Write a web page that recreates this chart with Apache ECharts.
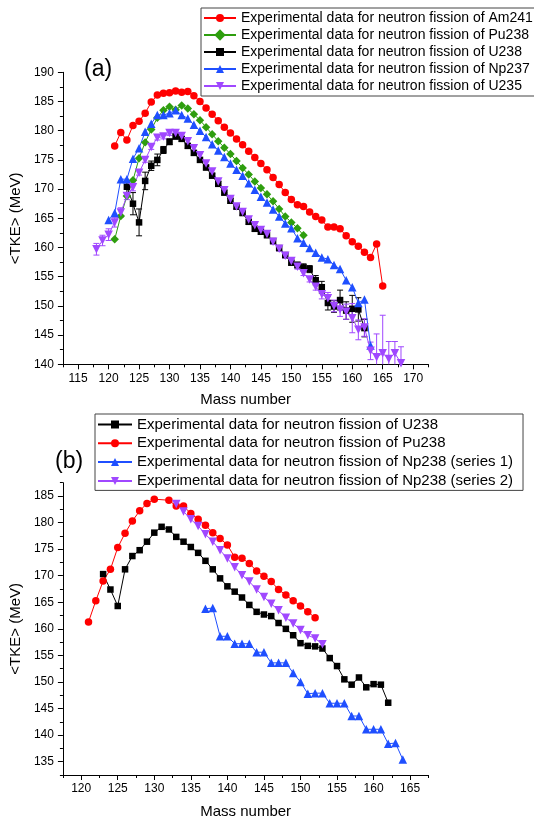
<!DOCTYPE html>
<html><head><meta charset="utf-8">
<script src="https://cdn.jsdelivr.net/npm/echarts@6/dist/echarts.min.js"></script>
<style>html,body{margin:0;padding:0;background:#fff}#c{width:534px;height:821px}</style>
</head><body><div id="c"></div>
<script>
// ---------- Panel (a) data ----------
const massAm241 = [121,122,123,124,125,126,127,128,129,130,131,132,133,134,135,136,137,138,139,140,141,142,143,144,145,146,147,148,149,150,151,152,153,154,155,156,157,158,159,160,161,162,163,164,165];
const tkeAm241 = [177.4,179.7,178.4,180.9,181.6,183.0,184.9,186.1,186.4,186.5,186.8,186.6,186.7,186.0,185.0,183.9,182.8,181.7,180.6,179.6,178.6,177.6,176.5,175.4,174.4,173.3,172.0,170.8,169.4,168.2,167.3,167.0,166.1,165.3,164.7,163.5,163.5,163.2,162.0,161.0,160.2,159.2,158.3,160.6,153.4];

const massPu238a = [121,122,123,124,125,126,127,128,129,130,131,132,133,134,135,136,137,138,139,140,141,142,143,144,145,146,147,148,149,150,151,152];
const tkePu238a = [161.4,165.4,168.8,171.5,175.3,178.0,180.2,182.2,183.5,184.1,183.6,184.3,183.8,182.8,181.8,180.6,179.4,178.2,177.1,176.0,174.8,173.6,172.5,171.3,170.2,169.1,167.9,166.6,165.3,164.3,163.3,162.1];

const massU238a = [123,124,125,126,127,128,129,130,131,132,133,134,135,136,137,138,139,140,141,142,143,144,145,146,147,148,149,150,151,152,153,154,155,156,157,158,159,160,161,162];
const tkeU238a = [170.4,167.5,164.3,171.4,174.0,175.0,176.7,178.1,179.0,178.6,177.4,176.2,175.0,173.7,172.3,170.9,169.4,168.0,167.0,165.9,164.4,163.2,162.7,162.1,161.1,159.9,158.7,157.4,157.0,156.6,156.3,154.4,153.2,150.5,149.9,151.0,149.2,149.5,149.4,146.2];
const errU238a = [1.0,1.9,2.3,1.5,0.8,1.0,0.6,0.5,0.4,0.4,0.4,0.4,0.4,0.4,0.4,0.4,0.4,0.4,0.4,0.4,0.4,0.4,0.4,0.4,0.4,0.4,0.4,0.4,0.5,0.6,0.6,0.8,1.0,1.2,1.0,1.7,1.5,2.3,2.0,1.5];

const massNp237 = [120,121,122,123,124,125,126,127,128,129,130,131,132,133,134,135,136,137,138,139,140,141,142,143,144,145,146,147,148,149,150,151,152,153,154,155,156,157,158,159,160,161,162,163];
const tkeNp237 = [164.7,165.9,171.7,171.7,175.2,177.0,179.8,181.2,182.7,182.7,183.0,183.5,182.7,182.1,181.0,180.0,178.9,177.7,176.6,175.5,174.4,173.3,172.3,171.0,169.9,168.7,167.7,166.5,165.3,164.1,163.3,161.6,160.8,159.9,159.1,158.3,158.0,157.0,156.3,154.4,153.2,150.5,151.1,143.2];

const massU235 = [118,119,120,121,122,123,124,125,126,127,128,129,130,131,132,133,134,135,136,137,138,139,140,141,142,143,144,145,146,147,148,149,150,151,152,153,154,155,156,157,158,159,160,161,162,163,164,165,166,167,168];
const tkeU235 = [159.7,161.2,162.2,164.3,166.0,168.8,170.3,172.8,175.0,177.2,178.8,179.0,179.6,179.6,179.1,178.2,177.0,175.8,174.4,173.0,171.3,169.8,168.3,167.0,166.1,164.8,163.8,163.0,162.3,161.0,159.8,158.6,157.7,156.7,155.6,154.5,153.3,152.0,151.3,150.0,149.4,149.0,147.9,145.9,146.3,142.3,141.2,141.9,140.9,141.9,140.2];
const errU235 = [1.0,0.9,1.0,0.8,0.8,0.6,0.6,0.4,0.4,0.4,0.4,0.4,0.4,0.4,0.4,0.4,0.4,0.4,0.4,0.4,0.4,0.4,0.4,0.4,0.4,0.4,0.4,0.4,0.4,0.4,0.4,0.4,0.4,0.4,0.4,0.4,0.6,0.8,1.0,1.0,1.2,1.3,2.5,1.7,1.5,1.5,4.0,6.5,3.0,2.0,2.8];

// ---------- Panel (b) data ----------
const massU238b = [123,124,125,126,127,128,129,130,131,132,133,134,135,136,137,138,139,140,141,142,143,144,145,146,147,148,149,150,151,152,153,154,155,156,157,158,159,160,161,162];
const tkeU238b = [170.3,167.4,164.3,171.2,173.7,174.8,176.4,178.1,179.2,178.7,177.3,176.4,175.4,174.3,172.8,171.2,169.5,168.0,167.0,165.9,164.5,163.2,162.7,162.4,161.1,160.0,158.8,157.3,156.8,156.7,156.3,154.5,153.0,150.5,149.5,150.85,149.0,149.6,149.5,146.1];

const massPu238b = [121,122,123,124,125,126,127,128,129,130,132,133,134,135,136,137,138,139,140,141,142,143,144,145,146,147,148,149,150,151,152];
const tkePu238b = [161.3,165.3,169.0,171.2,175.3,178.0,180.3,182.2,183.6,184.4,184.2,183.1,183.1,181.7,180.6,179.5,178.1,177.0,175.8,173.45,173.3,172.3,170.9,169.9,168.9,167.4,166.35,165.3,164.3,163.2,162.1];

const massNp238s1 = [137,138,139,140,141,142,143,144,145,146,147,148,149,150,151,152,153,154,155,156,157,158,159,160,161,162,163,164];
const tkeNp238s1 = [163.8,163.9,158.6,158.6,157.2,157.2,157.2,155.6,155.6,153.6,153.6,153.6,151.7,150.0,147.8,147.9,147.9,146.0,146.0,146.0,143.6,143.6,141.1,141.1,141.1,138.4,138.5,135.4];

const massNp238s2 = [133,134,135,136,137,138,139,140,141,142,143,144,145,146,147,148,149,150,151,152,153];
const tkeNp238s2 = [183.5,182.1,180.6,179.35,177.8,176.4,174.8,173.25,171.6,170.1,168.9,167.4,166.0,164.7,163.5,162.1,161.0,159.8,158.8,158.2,157.1];

// ---------- Tick labels ----------
const xTicksA = [115,120,125,130,135,140,145,150,155,160,165,170];
const xMinorA = [112.5,117.5,122.5,127.5,132.5,137.5,142.5,147.5,152.5,157.5,162.5,167.5,172.5];
const yTicksA = [140,145,150,155,160,165,170,175,180,185,190];
const yMinorA = [142.5,147.5,152.5,157.5,162.5,167.5,172.5,177.5,182.5,187.5];
const xTicksB = [120,125,130,135,140,145,150,155,160,165];
const xMinorB = [117.5,122.5,127.5,132.5,137.5,142.5,147.5,152.5,157.5,162.5,167.5];
const yTicksB = [135,140,145,150,155,160,165,170,175,180,185];
const yMinorB = [132.5,137.5,142.5,147.5,152.5,157.5,162.5,167.5,172.5,177.5,182.5,187.5];

const NAME_A = ['Experimental data for neutron fission of Am241','Experimental data for neutron fission of Pu238','Experimental data for neutron fission of U238','Experimental data for neutron fission of Np237','Experimental data for neutron fission of U235'];
const NAME_B = ['b|Experimental data for neutron fission of U238','b|Experimental data for neutron fission of Pu238','b|Experimental data for neutron fission of Np238 (series 1)','b|Experimental data for neutron fission of Np238 (series 2)'];

const FONT = '"Liberation Sans", Arial, Helvetica, sans-serif';
const COL = {red:'#ff0000', green:'#2e9e0e', black:'#000000', blue:'#1f4fff', purple:'#a048ff'};

function pairs(xs, ys){ return xs.map((x,i)=>[x, ys[i]]); }
function triples(xs, ys, es){ return xs.map((x,i)=>[x, ys[i], es[i]]); }

function axisPair(dim, gridIndex, min, max, majors, minors, name, nameGap){
  const main = {
    type:'value', gridIndex, min, max,
    axisLine:{show:true, onZero:false, lineStyle:{color:'#000', width:1}},
    axisTick:{show:true, customValues:majors, length:5, lineStyle:{color:'#000', width:1}},
    axisLabel:{show:true, customValues:majors, color:'#000', fontSize:12, fontFamily:FONT, margin: dim==='x'?8:9},
    splitLine:{show:false},
    name, nameLocation:'middle', nameGap,
    nameTextStyle:{color:'#000', fontSize:15, fontFamily:FONT}
  };
  const minor = {
    type:'value', gridIndex, min, max,
    axisLine:{show:false, onZero:false},
    axisTick:{show:true, customValues:minors, length:3, lineStyle:{color:'#000', width:1}},
    axisLabel:{show:false},
    splitLine:{show:false}
  };
  if (dim==='x'){ main.position='bottom'; minor.position='bottom'; }
  else { main.position='left'; minor.position='left'; main.nameRotate=90; }
  return [main, minor];
}

function lineSeries(name, xi, yi, xs, ys, color, symbol, size, rotate){
  return {
    name, type:'line', xAxisIndex:xi, yAxisIndex:yi,
    data:pairs(xs, ys), symbol, symbolSize:size, symbolRotate:rotate||0,
    showAllSymbol:true, z:3,
    lineStyle:{color, width:1}, itemStyle:{color, borderWidth:0},
    emphasis:{disabled:true}
  };
}

function errSeries(xi, yi, xs, ys, es, color){
  return {
    type:'custom', xAxisIndex:xi, yAxisIndex:yi, z:2,
    data:triples(xs, ys, es),
    encode:{x:0, y:1},
    renderItem:function(params, api){
      const x=api.value(0), y=api.value(1), e=api.value(2);
      const cs = params.coordSys;
      const top = cs.y, bot = cs.y + cs.height;
      const p1 = api.coord([x, y+e]), p2 = api.coord([x, y-e]);
      const yt = Math.max(p1[1], top), yb = Math.min(p2[1], bot);
      const st = {stroke:color, lineWidth:1, fill:null};
      const ch = [{type:'line', shape:{x1:p1[0], y1:yt, x2:p1[0], y2:yb}, style:st}];
      const cap = 3;
      if (p1[1] >= top) ch.push({type:'line', shape:{x1:p1[0]-cap, y1:p1[1], x2:p1[0]+cap, y2:p1[1]}, style:st});
      if (p2[1] <= bot) ch.push({type:'line', shape:{x1:p2[0]-cap, y1:p2[1], x2:p2[0]+cap, y2:p2[1]}, style:st});
      return {type:'group', children:ch};
    },
    silent:true
  };
}

const xa = axisPair('x', 0, 112.5, 172.5, xTicksA, xMinorA, 'Mass number', 28);
const ya = axisPair('y', 0, 140, 190, yTicksA, yMinorA, '<TKE> (MeV)', 36);
const xb = axisPair('x', 1, 117.5, 167.5, xTicksB, xMinorB, 'Mass number', 29);
const yb = axisPair('y', 1, 132.5, 187.5, yTicksB, yMinorB, '<TKE> (MeV)', 36);

const option = {
  animation:false,
  backgroundColor:'#fff',
  grid:[
    {left:58.7, top:72.3, width:369.7, height:292, containLabel:false},
    {left:58.7, top:482.7, width:369.7, height:292.3, containLabel:false}
  ],
  xAxis:[xa[0], xa[1], xb[0], xb[1]],
  yAxis:[ya[0], ya[1], yb[0], yb[1]],
  legend:[
    {data:NAME_A, orient:'vertical', left:201, top:8, padding:[3,3,3,2],
     itemWidth:32, itemHeight:10, itemGap:3, borderColor:'#444', borderWidth:1,
     textStyle:{color:'#000', fontSize:14, fontFamily:FONT}, selectedMode:false},
    {data:NAME_B, orient:'vertical', left:95, top:414, padding:[3,10,2,2],
     itemWidth:34, itemHeight:10, itemGap:3.8, borderColor:'#444', borderWidth:1,
     formatter:n=>n.replace('b|',''),
     textStyle:{color:'#000', fontSize:15, fontFamily:FONT}, selectedMode:false}
  ],
  graphic:[
    {type:'text', left:84, top:58, style:{text:'(a)', fontSize:23, fontFamily:FONT, fill:'#000'}},
    {type:'text', left:55, top:450, style:{text:'(b)', fontSize:23, fontFamily:FONT, fill:'#000'}}
  ],
  series:[
    errSeries(0,0,massU238a,tkeU238a,errU238a,'#000'),
    errSeries(0,0,massU235,tkeU235,errU235,COL.purple),
    lineSeries(NAME_A[0],0,0,massAm241,tkeAm241,COL.red,'circle',7.5),
    lineSeries(NAME_A[1],0,0,massPu238a,tkePu238a,COL.green,'rect',6,45),
    lineSeries(NAME_A[2],0,0,massU238a,tkeU238a,COL.black,'rect',6.5),
    lineSeries(NAME_A[3],0,0,massNp237,tkeNp237,COL.blue,'triangle',8.5),
    lineSeries(NAME_A[4],0,0,massU235,tkeU235,COL.purple,'triangle',8.5,180),
    lineSeries(NAME_B[0],2,2,massU238b,tkeU238b,COL.black,'rect',6.5),
    lineSeries(NAME_B[1],2,2,massPu238b,tkePu238b,COL.red,'circle',7.5),
    lineSeries(NAME_B[2],2,2,massNp238s1,tkeNp238s1,COL.blue,'triangle',8.5),
    lineSeries(NAME_B[3],2,2,massNp238s2,tkeNp238s2,COL.purple,'triangle',8.5,180)
  ]
};
const chart = echarts.init(document.getElementById('c'), null, {renderer:'canvas'});
chart.setOption(option);
</script>
</body></html>
